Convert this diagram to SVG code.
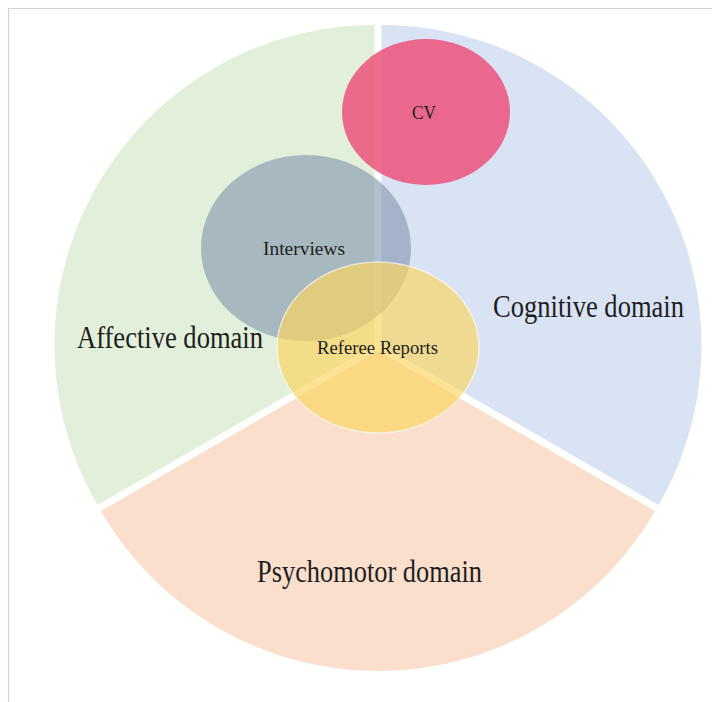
<svg xmlns="http://www.w3.org/2000/svg" width="712" height="702" viewBox="0 0 712 702">
  <style>
    .big { font-family: "Liberation Serif", "Times New Roman", serif; font-size: 31px; fill: #1e1e1e; text-anchor: start; }
    .small { font-family: "Liberation Serif", "Times New Roman", serif; font-size: 18.5px; fill: #1e1e1e; text-anchor: middle; }
    .frame { fill: none; stroke: #d2d2d2; stroke-width: 1.2; }
  </style>
  <rect x="0" y="0" width="712" height="702" fill="#ffffff"/>
  <path class="frame" d="M8.5,702 V8.5 H712"/>

  <g id="affective-domain">
    <path d="M374.5,345 L374.5,25 A320,320 0 0 0 97.4,505 Z" fill="#e2efda"/>
    <text class="big" x="77" y="348" textLength="186" lengthAdjust="spacingAndGlyphs">Affective domain</text>
  </g>
  <g id="cognitive-domain">
    <path d="M381.5,345 L381.5,25 A320,320 0 0 1 658.6,505 Z" fill="#dae3f3"/>
    <text class="big" x="493" y="316.5" textLength="191" lengthAdjust="spacingAndGlyphs">Cognitive domain</text>
  </g>
  <g id="psychomotor-domain">
    <path d="M378,351 L655.1,511 A320,320 0 0 1 100.9,511 Z" fill="#f9dfcc"/>
    <text class="big" x="257" y="582" textLength="225" lengthAdjust="spacingAndGlyphs">Psychomotor domain</text>
  </g>

  <g id="cv">
    <ellipse cx="426" cy="112" rx="84" ry="73" fill="rgb(236,82,122)" fill-opacity="0.85"/>
    <text class="small" x="424" y="119" textLength="24" lengthAdjust="spacingAndGlyphs">CV</text>
  </g>
  <g id="interviews">
    <ellipse cx="306" cy="248" rx="105" ry="93" fill="rgb(129,146,171)" fill-opacity="0.6"/>
    <text class="small" x="304" y="255" textLength="82" lengthAdjust="spacingAndGlyphs">Interviews</text>
  </g>
  <g id="referee-reports">
    <ellipse cx="378" cy="347.5" rx="101" ry="85.5" fill="rgb(250,212,98)" fill-opacity="0.68" stroke="#ffffff" stroke-opacity="0.6" stroke-width="1.5"/>
    <text class="small" x="377.5" y="354" textLength="121" lengthAdjust="spacingAndGlyphs">Referee Reports</text>
  </g>

  <g id="connectors"></g>
</svg>
